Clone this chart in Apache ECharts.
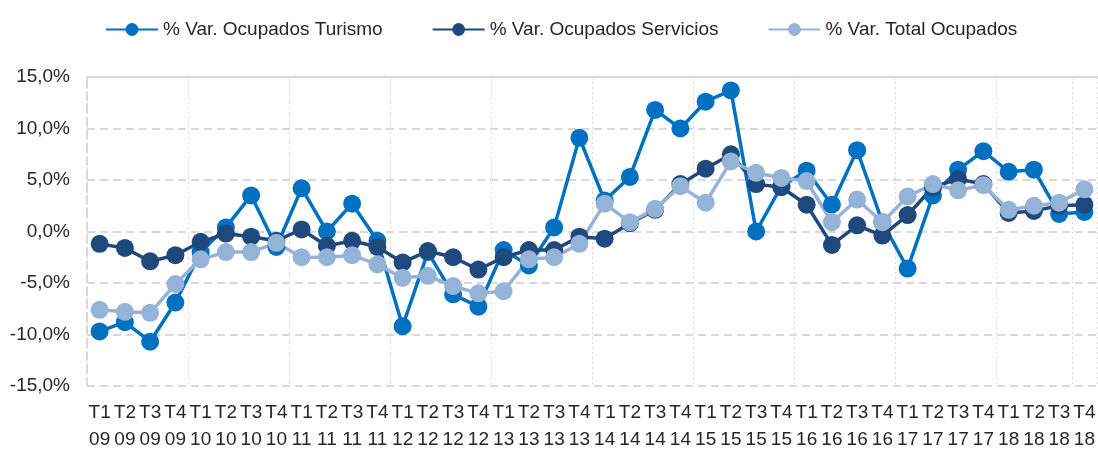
<!DOCTYPE html>
<html>
<head>
<meta charset="utf-8">
<script src="https://cdn.jsdelivr.net/npm/echarts@6/dist/echarts.min.js"></script>
<style>
  html, body { margin: 0; padding: 0; background: #fff; }
  #chart { width: 1098px; height: 451px; }
</style>
</head>
<body>
<div id="chart"></div>
<script>
// categorias (trimestre / año)
const categorias = [
  'T1\n09', 'T2\n09', 'T3\n09', 'T4\n09',
  'T1\n10', 'T2\n10', 'T3\n10', 'T4\n10',
  'T1\n11', 'T2\n11', 'T3\n11', 'T4\n11',
  'T1\n12', 'T2\n12', 'T3\n12', 'T4\n12',
  'T1\n13', 'T2\n13', 'T3\n13', 'T4\n13',
  'T1\n14', 'T2\n14', 'T3\n14', 'T4\n14',
  'T1\n15', 'T2\n15', 'T3\n15', 'T4\n15',
  'T1\n16', 'T2\n16', 'T3\n16', 'T4\n16',
  'T1\n17', 'T2\n17', 'T3\n17', 'T4\n17',
  'T1\n18', 'T2\n18', 'T3\n18', 'T4\n18'
];

const turismo = [
  -9.7, -8.8, -10.7, -6.9,
  -2.0, 0.4, 3.5, -1.5,
  4.2, 0.0, 2.7, -0.9,
  -9.2, -2.0, -6.1, -7.3,
  -1.8, -3.3, 0.4, 9.1,
  3.0, 5.3, 11.8, 10.0,
  12.6, 13.7, 0.0, 4.4,
  5.9, 2.6, 7.9, 0.9,
  -3.6, 3.5, 6.0, 7.8,
  5.8, 6.0, 1.7, 1.9
];

const servicios = [
  -1.2, -1.6, -2.9, -2.3,
  -1.0, -0.2, -0.5, -0.9,
  0.2, -1.4, -0.9, -1.5,
  -3.0, -1.9, -2.5, -3.7,
  -2.5, -1.8, -1.8, -0.5,
  -0.7, 0.8, 2.1, 4.6,
  6.1, 7.5, 4.6, 4.3,
  2.6, -1.3, 0.6, -0.4,
  1.6, 4.3, 5.1, 4.6,
  1.8, 2.0, 2.5, 2.6
];

const total = [
  -7.6, -7.8, -7.9, -5.1,
  -2.7, -2.0, -2.0, -1.1,
  -2.5, -2.5, -2.3, -3.2,
  -4.5, -4.3, -5.3, -6.0,
  -5.8, -2.7, -2.5, -1.2,
  2.7, 0.9, 2.2, 4.4,
  2.8, 6.8, 5.7, 5.2,
  4.9, 0.9, 3.1, 0.9,
  3.4, 4.6, 4.0, 4.5,
  2.1, 2.5, 2.8, 4.1
];

const nombres = ['% Var. Ocupados Turismo', '% Var. Ocupados Servicios', '% Var. Total Ocupados'];
const colores = ['#0070C0', '#1F497D', '#95B3D7'];

const fuente = "'Liberation Sans', Arial, sans-serif";

const chart = echarts.init(document.getElementById('chart'));

const serie = (name, data, color) => ({
  name: name,
  type: 'line',
  data: data,
  symbol: 'circle',
  symbolSize: 18,
  lineStyle: { width: 3.5, color: color },
  itemStyle: { color: color },
  emphasis: { disabled: true }
});

chart.setOption({
  animation: false,
  textStyle: { fontFamily: fuente },
  legend: {
    top: 15,
    left: 100,
    width: 990,
    itemWidth: 52,
    itemHeight: 16,
    itemGap: 49,
    textStyle: { fontFamily: fuente, fontSize: 19, color: '#262626' },
    data: nombres
  },
  grid: { left: 87, right: 1, top: 77, bottom: 65, outerBoundsMode: 'none' },
  xAxis: [
    {
      type: 'category',
      data: categorias,
      boundaryGap: true,
      axisLine: { show: false },
      axisTick: { show: false },
      axisLabel: {
        interval: 0,
        margin: 13,
        fontFamily: fuente,
        fontSize: 19,
        lineHeight: 27,
        color: '#262626'
      },
      splitLine: {
        show: true,
        interval: 3,
        lineStyle: { color: '#D9D9D9', width: 1, type: [2, 3] }
      }
    },
    {
      type: 'category',
      data: categorias,
      position: 'top',
      axisLine: { show: true, onZero: true, lineStyle: { color: '#D9D9D9', width: 2 } },
      axisTick: { show: false },
      axisLabel: { show: false },
      splitLine: { show: false }
    }
  ],
  yAxis: {
    type: 'value',
    min: -15,
    max: 15,
    interval: 5,
    axisLine: { show: true, lineStyle: { color: '#D9D9D9', width: 2, type: [8, 5] } },
    axisTick: { show: false },
    axisLabel: {
      margin: 17,
      fontFamily: fuente,
      fontSize: 19,
      color: '#262626',
      formatter: v => v.toFixed(1).replace('.', ',') + '%'
    },
    splitLine: { lineStyle: { color: '#D9D9D9', width: 2, type: [8, 5] } }
  },
  series: [
    serie(nombres[0], turismo, colores[0]),
    serie(nombres[1], servicios, colores[1]),
    serie(nombres[2], total, colores[2])
  ]
});
</script>
</body>
</html>
